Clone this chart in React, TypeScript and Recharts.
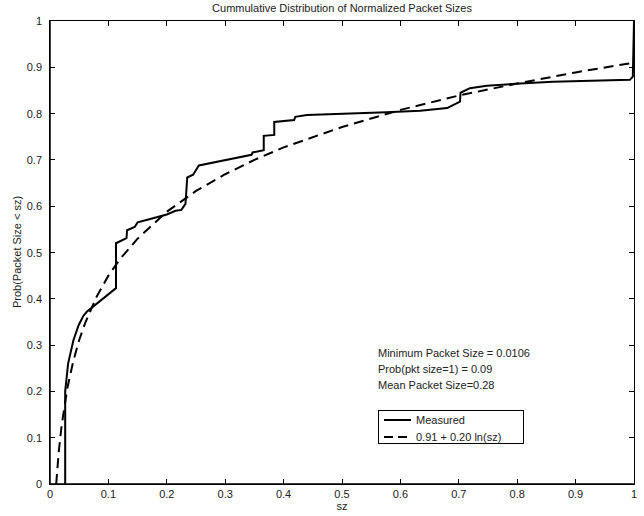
import React from 'react';
import { LineChart, Line, XAxis, YAxis, Legend, Customized } from 'recharts';

const measuredX = [0.026, 0.026, 0.031, 0.04, 0.049, 0.057, 0.063, 0.113, 0.113, 0.131, 0.132, 0.145, 0.15, 0.17, 0.2, 0.215, 0.225, 0.232, 0.235, 0.245, 0.25, 0.255, 0.345, 0.347, 0.366, 0.366, 0.384, 0.384, 0.418, 0.42, 0.44, 0.576, 0.634, 0.68, 0.696, 0.702, 0.703, 0.719, 0.748, 0.805, 0.861, 0.993, 0.998, 1.0];
const measuredY = [0, 0.2, 0.26, 0.31, 0.343, 0.363, 0.372, 0.423, 0.52, 0.531, 0.548, 0.555, 0.565, 0.572, 0.582, 0.59, 0.592, 0.605, 0.662, 0.668, 0.678, 0.688, 0.711, 0.716, 0.721, 0.752, 0.754, 0.782, 0.786, 0.793, 0.797, 0.803, 0.806, 0.812, 0.822, 0.826, 0.845, 0.855, 0.86, 0.865, 0.869, 0.873, 0.88, 1.0];

const fitX = [0.0106, 0.015, 0.02, 0.03, 0.04, 0.05, 0.06, 0.08, 0.1, 0.12, 0.15, 0.2, 0.25, 0.3, 0.35, 0.4, 0.5, 0.6, 0.7, 0.8, 0.9, 1.0];
const fitY = [0, 0.07, 0.127, 0.209, 0.266, 0.311, 0.347, 0.405, 0.45, 0.486, 0.53, 0.588, 0.633, 0.669, 0.7, 0.727, 0.771, 0.808, 0.839, 0.865, 0.889, 0.91];

const xTicks = [0, 0.1, 0.2, 0.3, 0.4, 0.5, 0.6, 0.7, 0.8, 0.9, 1];
const xTickLabels = ['0', '0.1', '0.2', '0.3', '0.4', '0.5', '0.6', '0.7', '0.8', '0.9', '1'];
const yTicks = [0, 0.1, 0.2, 0.3, 0.4, 0.5, 0.6, 0.7, 0.8, 0.9, 1];
const yTickLabels = ['0', '0.1', '0.2', '0.3', '0.4', '0.5', '0.6', '0.7', '0.8', '0.9', '1'];

const titleText = 'Cummulative Distribution of Normalized Packet Sizes';
const xLabelText = 'sz';
const yLabelText = 'Prob(Packet Size < sz)';
const notes = ['Minimum Packet Size = 0.0106', 'Prob(pkt size=1) = 0.09', 'Mean Packet Size=0.28'];
const seriesNames = ['Measured', '0.91 + 0.20 ln(sz)'];

const rows = [
  ...measuredX.map((x, i) => ({ x, m: measuredY[i] as number | null, f: null as number | null, o: 0 })),
  ...fitX.map((x, i) => ({ x, m: null as number | null, f: fitY[i] as number | null, o: 1 })),
]
  .map((r, i) => ({ ...r, i }))
  .sort((a, b) => a.x - b.x || a.o - b.o || a.i - b.i);

const FONT = '"Liberation Sans", Arial, Helvetica, sans-serif';
const TXT = '#222';
const MARGIN = { top: 21, right: 10, bottom: 0, left: 0 };
const CW = 644;
const CH = 516;
const YAXIS_W = 50;
const XAXIS_H = 32;
const PX = MARGIN.left + YAXIS_W;
const PY = MARGIN.top;
const PW = CW - MARGIN.left - MARGIN.right - YAXIS_W;
const PH = CH - MARGIN.top - MARGIN.bottom - XAXIS_H;
const TICK = 5;

const labelFor = (v: number, ticks: number[], labels: string[]) => {
  const i = ticks.findIndex((t) => Math.abs(t - v) < 1e-9);
  return i >= 0 ? labels[i] : String(v);
};

const BottomTick = (p: any) => {
  const { x, y, payload } = p;
  return (
    <text x={x} y={y + 14} textAnchor="middle" fontSize={11} fontFamily={FONT} fill={TXT}>
      {labelFor(payload.value, xTicks, xTickLabels)}
    </text>
  );
};
const LeftTick = (p: any) => {
  const { x, y, payload } = p;
  return (
    <text x={x - 8} y={y + 4} textAnchor="end" fontSize={11} fontFamily={FONT} fill={TXT}>
      {labelFor(payload.value, yTicks, yTickLabels)}
    </text>
  );
};

const Texts = () => (
  <g fontFamily={FONT} fill={TXT}>
    <text x={342} y={12} textAnchor="middle" fontSize={11}>{titleText}</text>
    <text x={342} y={510} textAnchor="middle" fontSize={11}>{xLabelText}</text>
    <text x={21} y={252} textAnchor="middle" fontSize={11} transform="rotate(-90 21 252)">{yLabelText}</text>
    {notes.map((n, i) => (
      <text key={i} x={378} y={357 + i * 16} fontSize={11}>{n}</text>
    ))}
  </g>
);

// box frame with inward ticks on all four sides, laid over the plot area
const FrameOverlay = () => {
  const tickStyle = (extra: React.CSSProperties): React.CSSProperties => ({
    position: 'absolute',
    background: '#000',
    ...extra,
  });
  const inner = xTicks.slice(1, -1);
  const innerY = yTicks.slice(1, -1);
  return (
    <div
      style={{
        position: 'absolute',
        left: PX - 1,
        top: PY - 1,
        width: PW + 2,
        height: PH + 2,
        border: '1.5px solid #000',
        boxSizing: 'border-box',
        pointerEvents: 'none',
      }}
    >
      {inner.map((t) => (
        <React.Fragment key={'x' + t}>
          <div style={tickStyle({ left: t * PW - 0.5, top: 0, width: 1, height: TICK })} />
          <div style={tickStyle({ left: t * PW - 0.5, bottom: 0, width: 1, height: TICK })} />
        </React.Fragment>
      ))}
      {innerY.map((t) => (
        <React.Fragment key={'y' + t}>
          <div style={tickStyle({ left: 0, top: (1 - t) * PH - 0.5, width: TICK, height: 1 })} />
          <div style={tickStyle({ right: 0, top: (1 - t) * PH - 0.5, width: TICK, height: 1 })} />
        </React.Fragment>
      ))}
    </div>
  );
};

const LegendBox = () => (
  <div
    style={{
      width: 146,
      height: 34,
      border: '1px solid #000',
      background: '#fff',
      boxSizing: 'border-box',
      fontFamily: FONT,
      fontSize: 11,
      color: TXT,
      position: 'relative',
    }}
  >
    <svg width={146} height={34} style={{ position: 'absolute', left: 0, top: 0 }}>
      <line x1={5} y1={9} x2={32} y2={9} stroke="#000" strokeWidth={2} />
      <line x1={5} y1={26} x2={32} y2={26} stroke="#000" strokeWidth={2} strokeDasharray="9 5" />
      <text x={37} y={13} fontSize={11} fontFamily={FONT} fill={TXT}>{seriesNames[0]}</text>
      <text x={37} y={30} fontSize={11} fontFamily={FONT} fill={TXT}>{seriesNames[1]}</text>
    </svg>
  </div>
);

export default function App() {
  return (
    <div style={{ position: 'absolute', left: 0, top: 0, width: CW, height: CH, background: '#fff' }}>
      <LineChart width={CW} height={CH} data={rows} margin={MARGIN}>
        <XAxis
          dataKey="x"
          type="number"
          domain={[0, 1]}
          ticks={xTicks}
          interval={0}
          height={XAXIS_H}
          tickSize={0}
          tickMargin={0}
          tickLine={false}
          tick={BottomTick}
          axisLine={{ stroke: '#000', strokeWidth: 1.5 }}
          allowDataOverflow
        />
        <YAxis
          type="number"
          domain={[0, 1]}
          ticks={yTicks}
          interval={0}
          width={YAXIS_W}
          tickSize={0}
          tickMargin={0}
          tickLine={false}
          tick={LeftTick}
          axisLine={{ stroke: '#000', strokeWidth: 1.5 }}
          allowDataOverflow
        />
        <Line
          dataKey="m"
          name={seriesNames[0]}
          type="linear"
          stroke="#000"
          strokeWidth={2}
          dot={false}
          activeDot={false}
          connectNulls
          isAnimationActive={false}
        />
        <Line
          dataKey="f"
          name={seriesNames[1]}
          type="linear"
          stroke="#000"
          strokeWidth={2}
          strokeDasharray="10 6"
          dot={false}
          activeDot={false}
          connectNulls
          isAnimationActive={false}
        />
        <Legend
          layout="horizontal"
          verticalAlign="middle"
          align="center"
          content={() => <LegendBox />}
          wrapperStyle={{ position: 'absolute', left: 378, top: 410, width: 146, height: 34, bottom: 'auto', right: 'auto' }}
        />
        <Customized component={Texts} />
      </LineChart>
      <FrameOverlay />
    </div>
  );
}
